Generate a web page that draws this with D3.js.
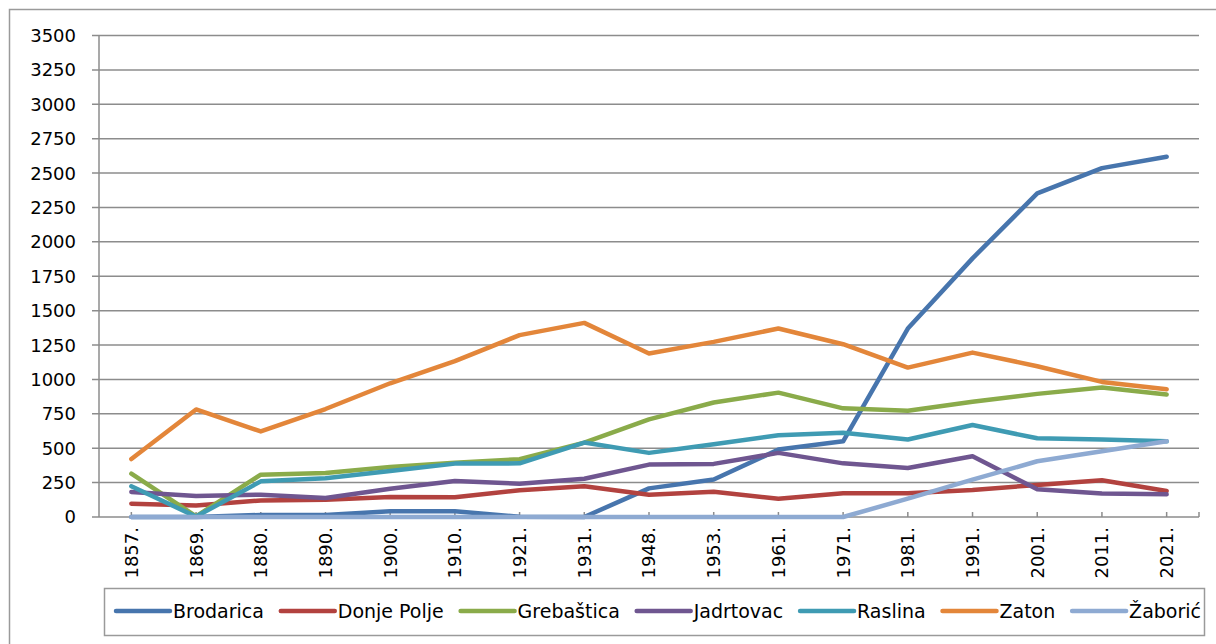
<!DOCTYPE html>
<html>
<head>
    <meta charset="utf-8">
    <script src="https://cdn.jsdelivr.net/npm/d3@7"></script>
    <style>
        body { margin: 0; background: white; }
        text { font-family: "DejaVu Sans", sans-serif; fill: #000; }
    </style>
</head>
<body>
    <svg id="svg" width="1216" height="644"></svg>
    <script>
        // census years and population per village
        const years = ["1857.", "1869.", "1880.", "1890.", "1900.", "1910.", "1921.", "1931.", "1948.", "1953.", "1961.", "1971.", "1981.", "1991.", "2001.", "2011.", "2021."];
        const brodarica = [0, 0, 15, 15, 42, 42, 2, 0, 208, 272, 490, 550, 1370, 1880, 2352, 2536, 2619];
        const donjePolje = [97, 84, 120, 126, 145, 143, 194, 223, 162, 184, 133, 172, 172, 196, 233, 267, 189];
        const grebastica = [315, 5, 308, 320, 364, 395, 420, 541, 710, 832, 904, 790, 773, 837, 895, 941, 890];
        const jadrtovac = [182, 153, 162, 138, 206, 262, 242, 278, 381, 386, 466, 390, 356, 441, 201, 170, 165];
        const raslina = [223, 3, 259, 281, 335, 388, 390, 541, 466, 529, 594, 613, 563, 669, 572, 563, 550];
        const zaton = [421, 782, 622, 785, 972, 1133, 1322, 1411, 1188, 1273, 1370, 1256, 1086, 1195, 1096, 982, 929];
        const zaboric = [0, 0, 0, 0, 0, 0, 0, 0, 0, 0, 0, 0, 133, 272, 405, 478, 550];
        const yTicks = [0, 250, 500, 750, 1000, 1250, 1500, 1750, 2000, 2250, 2500, 2750, 3000, 3250, 3500];

        const series = [
            { name: "Brodarica", values: brodarica, color: "#4775ad" },
            { name: "Donje Polje", values: donjePolje, color: "#b2423f" },
            { name: "Grebaštica", values: grebastica, color: "#8aab4a" },
            { name: "Jadrtovac", values: jadrtovac, color: "#6f5690" },
            { name: "Raslina", values: raslina, color: "#3f9bb3" },
            { name: "Zaton", values: zaton, color: "#e3863a" },
            { name: "Žaborić", values: zaboric, color: "#8eaad2" }
        ];

        var svg = d3.select("#svg");
        var plotLeft = 99, plotRight = 1199, plotTop = 35.5, plotBottom = 517;
        var grid = "#8c8c8c";

        // outer chart frame
        svg.append("rect").attr("x", 9.5).attr("y", 9.5).attr("width", 1230).attr("height", 660)
            .attr("fill", "none").attr("stroke", "#9a9a9a").attr("stroke-width", 1.5);

        var x = d3.scalePoint().domain(years).range([plotLeft, plotRight]).padding(0.5);
        var y = d3.scaleLinear().domain([0, 3500]).range([plotBottom, plotTop]);

        // gridlines with left ticks
        svg.append("g").selectAll("line").data(yTicks.filter(d => d > 0)).join("line")
            .attr("x1", plotLeft - 7).attr("x2", plotRight)
            .attr("y1", d => y(d)).attr("y2", d => y(d))
            .attr("stroke", grid).attr("stroke-width", 1.5);
        svg.append("line").attr("x1", plotLeft - 7).attr("x2", plotLeft).attr("y1", plotBottom).attr("y2", plotBottom)
            .attr("stroke", grid).attr("stroke-width", 1.5);

        svg.append("g").selectAll("text").data(yTicks).join("text")
            .attr("x", 76).attr("y", d => y(d)).attr("dy", "0.36em")
            .attr("text-anchor", "end").attr("font-size", 18)
            .text(d => d);

        // axes
        svg.append("line").attr("x1", plotLeft).attr("x2", plotLeft).attr("y1", plotTop).attr("y2", plotBottom)
            .attr("stroke", grid).attr("stroke-width", 1.5);
        svg.append("line").attr("x1", plotLeft).attr("x2", plotRight).attr("y1", plotBottom).attr("y2", plotBottom)
            .attr("stroke", grid).attr("stroke-width", 1.5);
        svg.append("g").selectAll("line").data(years).join("line")
            .attr("x1", d => x(d)).attr("x2", d => x(d)).attr("y1", plotBottom - 5).attr("y2", plotBottom)
            .attr("stroke", grid).attr("stroke-width", 1.5);
        svg.append("line").attr("x1", plotRight).attr("x2", plotRight).attr("y1", plotBottom - 5).attr("y2", plotBottom)
            .attr("stroke", grid).attr("stroke-width", 1.5);

        svg.append("g").selectAll("text").data(years).join("text")
            .attr("transform", d => "translate(" + x(d) + "," + (plotBottom + 10) + ") rotate(-90)")
            .attr("dy", "0.36em").attr("text-anchor", "end").attr("font-size", 18)
            .text(d => d);

        // series lines
        var line = d3.line().x((d, i) => x(years[i])).y(d => y(d));
        svg.append("g").selectAll("path").data(series).join("path")
            .attr("d", d => line(d.values))
            .attr("fill", "none").attr("stroke", d => d.color).attr("stroke-width", 4.5)
            .attr("stroke-linejoin", "round").attr("stroke-linecap", "round");

        // legend
        svg.append("rect").attr("x", 104.5).attr("y", 588.5).attr("width", 1100).attr("height", 47)
            .attr("fill", "white").attr("stroke", "#9a9a9a").attr("stroke-width", 1.5);
        var lg = svg.append("g");
        var items = series.map(s => {
            var g = lg.append("g");
            g.append("line").attr("x1", 0).attr("x2", 54).attr("y1", 0).attr("y2", 0)
                .attr("stroke", s.color).attr("stroke-width", 4.5).attr("stroke-linecap", "round");
            var t = g.append("text").attr("x", 57).attr("dy", "0.36em").attr("font-size", 19).text(s.name);
            return { g: g, w: 57 + t.node().getComputedTextLength() };
        });
        var total = d3.sum(items, d => d.w);
        var gap = (1201 - 116 - total) / (items.length - 1);
        var cx = 116;
        items.forEach(it => {
            it.g.attr("transform", "translate(" + cx + ",611)");
            cx += it.w + gap;
        });
    </script>
</body>
</html>
